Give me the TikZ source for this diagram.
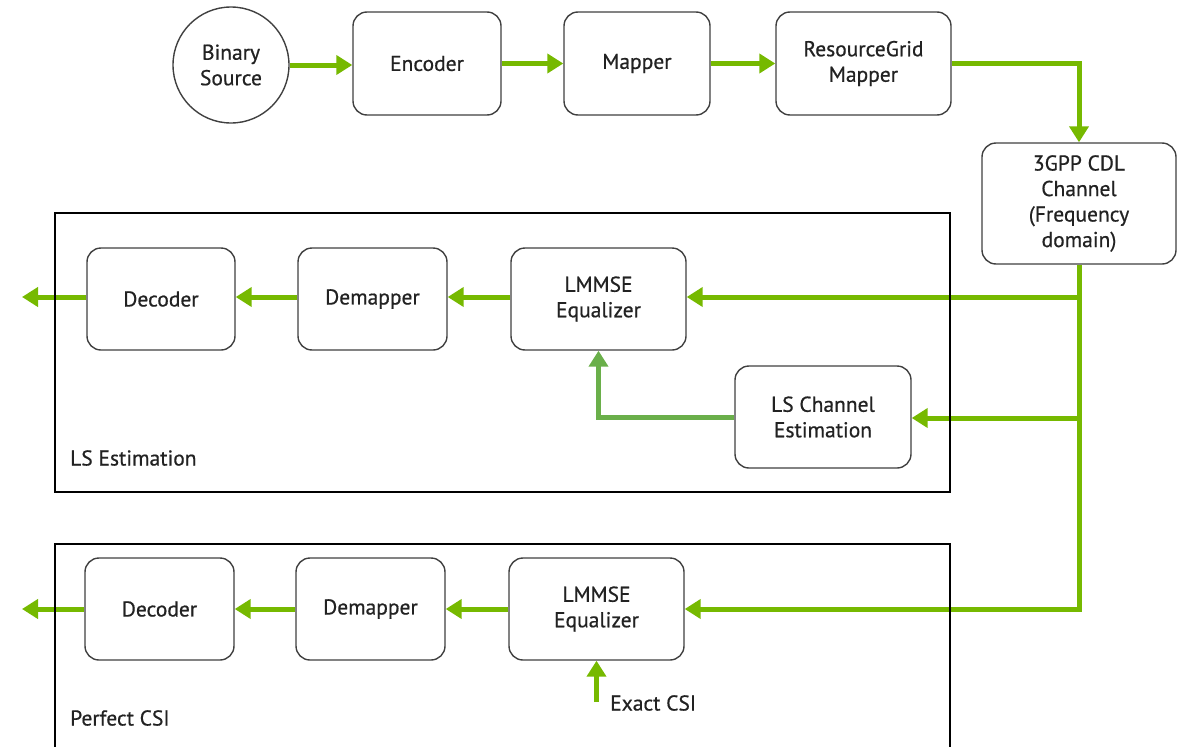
\documentclass[tikz,border=0pt]{standalone}
\usepackage{fontspec}
\setmainfont[FakeBold=0.6]{PT Sans}
\usetikzlibrary{arrows.meta}
\definecolor{nvgreen}{HTML}{76B900}
\definecolor{mgreen}{HTML}{6AAF4A}
\definecolor{txt}{HTML}{222222}
\tikzset{
  blk/.style={draw=black!75, line width=1.4pt, rounded corners=14pt, fill=white,
    align=center, text=txt, inner sep=0pt, font=\fontsize{21.5}{25.5}\selectfont},
  garrow/.style={draw=nvgreen, line width=5pt, -{Triangle[length=16pt,width=19pt]}},
  gline/.style={draw=nvgreen, line width=5pt},
  outer/.style={draw=black, line width=2.4pt},
  lbl/.style={text=txt, font=\fontsize{21.5}{25.5}\selectfont, inner sep=0pt, anchor=west}
}
\begin{document}
\begin{tikzpicture}[x=1pt,y=-1pt]
\useasboundingbox (0,0) rectangle (1187,747);
% top row
\node[blk, circle, minimum size=116pt] (src) at (231,65) {Binary\\Source};
\node[blk, minimum width=148pt, minimum height=103pt] (enc) at (427,63.5) {Encoder};
\node[blk, minimum width=146pt, minimum height=103pt] (map) at (637,63.5) {Mapper};
\node[blk, minimum width=175pt, minimum height=103pt] (rg) at (863.5,63.5) {ResourceGrid\\Mapper};
\node[blk, minimum width=194pt, minimum height=121pt] (ch) at (1079,203.5) {3GPP CDL\\Channel\\(Frequency\\domain)};
% LS estimation row
\node[blk, minimum width=148pt, minimum height=102pt] (dec1) at (161,299) {Decoder};
\node[blk, minimum width=149pt, minimum height=102pt] (dem1) at (372.5,299) {Demapper};
\node[blk, minimum width=175pt, minimum height=102pt] (eq1) at (598.5,299) {LMMSE\\Equalizer};
\node[blk, minimum width=176pt, minimum height=102pt] (ce) at (823,417) {LS Channel\\Estimation};
% Perfect CSI row
\node[blk, minimum width=149pt, minimum height=102pt] (dec2) at (159.5,609) {Decoder};
\node[blk, minimum width=149pt, minimum height=102pt] (dem2) at (370.5,609) {Demapper};
\node[blk, minimum width=175pt, minimum height=102pt] (eq2) at (596.5,609) {LMMSE\\Equalizer};
% coordinates
\coordinate (j1) at (1079,297);
\coordinate (j2) at (1079,418);
\coordinate (out1) at (22,297);
\coordinate (out2) at (22,609);
\coordinate (ecsi) at (596.5,702);
% top arrows
\draw[garrow] (src.east) -- (src.east -| enc.west);
\draw[garrow] (enc) -- (map);
\draw[garrow] (map) -- (rg);
\draw[garrow] (rg.east) -| (ch.north);
% trunk
\draw[garrow] (ch.south) |- (eq2.east);
\draw[garrow] ([xshift=2.5pt]j1) -- (j1 -| eq1.east);
\draw[garrow] ([xshift=2.5pt]j2) -- (j2 -| ce.east);
\draw[garrow, draw=mgreen] (ce.west) -| (eq1.south);
% LS row arrows
\draw[garrow] (eq1.west |- j1) -- (dem1.east |- j1);
\draw[garrow] (dem1.west |- j1) -- (dec1.east |- j1);
\draw[garrow] (dec1.west |- j1) -- (out1);
% Perfect CSI arrows
\draw[garrow] (eq2) -- (dem2);
\draw[garrow] (dem2) -- (dec2);
\draw[garrow] (dec2.west) -- (out2);
\draw[garrow] (ecsi) -- (eq2.south);
% outer frames
\draw[outer] (55,213) rectangle (950,492);
\draw[outer] (55,750) -- (55,544) -- (950,544) -- (950,750);
% labels
\node[lbl] (lsl) at (70,458) {LS Estimation};
\node[lbl] (pcl) at (70,718) {Perfect CSI};
\node[lbl] (ecl) at (610,703) {Exact CSI};
\end{tikzpicture}
\end{document}
